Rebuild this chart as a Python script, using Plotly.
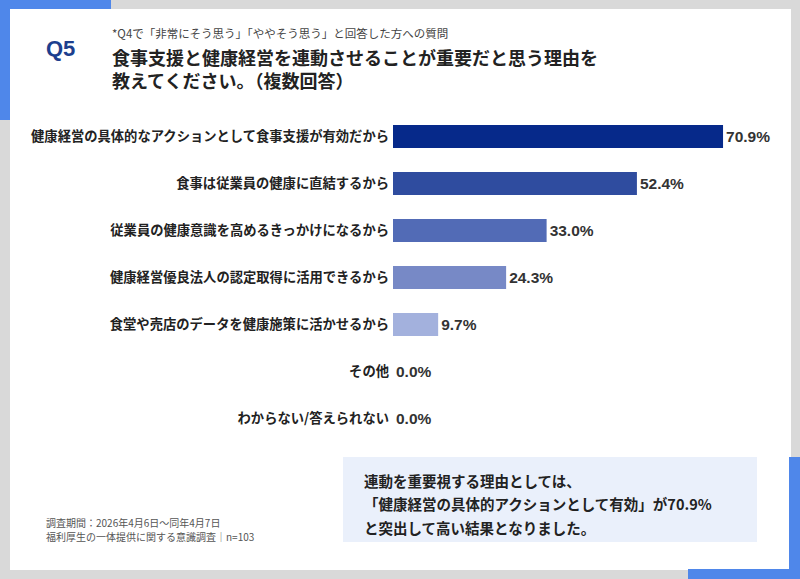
import plotly.graph_objects as go

# Q5 answers (multiple choice), n=103
reasons = [
	'健康経営の具体的なアクションとして食事支援が有効だから',
	'食事は従業員の健康に直結するから',
	'従業員の健康意識を高めるきっかけになるから',
	'健康経営優良法人の認定取得に活用できるから',
	'食堂や売店のデータを健康施策に活かせるから',
	'その他',
	'わからない/答えられない',
]
percent = [70.9, 52.4, 33.0, 24.3, 9.7, 0.0, 0.0]
bar_colors = ['#06298a', '#2f4c9f', '#526bb6', '#7789c6', '#a3b1dd', '#c5cdea', '#c5cdea']

subtitle = '*Q4で「非常にそう思う」「ややそう思う」と回答した方への質問'
title_lines = ['食事支援と健康経営を連動させることが重要だと思う理由を', '教えてください。（複数回答）']
callout_lines = ['連動を重要視する理由としては、', '「健康経営の具体的アクションとして有効」が70.9%', 'と突出して高い結果となりました。']
footnote_lines = ['調査期間：2026年4月6日～同年4月7日', '福利厚生の一体提供に関する意識調査│n=103']

W, H = 800, 579
L, R, T, B = 393, 10, 113, 137
JP = 'Noto Sans CJK JP'
LAT = 'Liberation Sans, Arial, Noto Sans CJK JP'
BLUE = '#4f87ea'

def px(x):
	return (x - L)/(W - L - R)

def py(y):
	return (H - B - y)/(H - T - B)

fig = go.Figure()
fig.add_trace(go.Bar(
	x = percent,
	y = reasons,
	orientation = 'h',
	marker = dict(color = bar_colors, line = dict(width = 0)),
	width = 0.49,
	texttemplate = '<b>%{x:.1f}%</b>',
	textposition = 'outside',
	textfont = dict(family = LAT, size = 15.5, color = '#333333'),
	cliponaxis = False,
	hoverinfo = 'skip',
))

def rect(x0, y0, x1, y1, color):
	fig.add_shape(
		type = 'rect', xref = 'paper', yref = 'paper',
		x0 = px(x0), x1 = px(x1), y0 = py(y1), y1 = py(y0),
		fillcolor = color, line = dict(width = 0), layer = 'below',
	)

# frame ---
rect(10, 9, 791, 570, 'white')
rect(0, 0, 111, 9, BLUE)
rect(0, 0, 10, 120, BLUE)
rect(789, 457, 800, 579, BLUE)
rect(688, 569, 800, 579, BLUE)
rect(343, 457, 757, 542, '#eaf0fb')

def text(x, y, s, size, color, family = JP, bold = False):
	fig.add_annotation(
		x = px(x), y = py(y), xref = 'paper', yref = 'paper',
		text = f'<b>{s}</b>' if bold else s,
		showarrow = False, xanchor = 'left', yanchor = 'middle', align = 'left',
		font = dict(family = family, size = size, color = color),
	)

text(44, 49, 'Q5', 22, '#1d3f8e', family = LAT, bold = True)
text(110, 33, subtitle, 11.5, '#444444')
text(110, 68, '<br>'.join(f'<b>{s}</b>' for s in title_lines), 18, '#222222')
for i, line in enumerate(callout_lines):
	text(362, 480 + 23.5*i, line, 14.5, '#222222', bold = True)
for i, line in enumerate(footnote_lines):
	text(44, 522 + 14*i, line, 10, '#555555')

fig.update_layout(
	width = W,
	height = H,
	margin = dict(l = L, r = R, t = T, b = B, pad = 0),
	paper_bgcolor = '#d9d9d9',
	plot_bgcolor = 'rgba(0,0,0,0)',
	showlegend = False,
	bargap = 0.51,
	xaxis = dict(
		range = [0, (W - L - R)/4.655],
		visible = False,
		fixedrange = True,
	),
	yaxis = dict(
		autorange = 'reversed',
		showgrid = False,
		zeroline = False,
		showline = False,
		ticks = '',
		ticklabelstandoff = 3,
		tickfont = dict(family = JP, size = 13.3, color = '#222222', weight = 'bold'),
		fixedrange = True,
	),
)

# page body has a default 8px margin, drop it so the figure sits at the window corner
fig.write_html(
	'out.html',
	config = {'displayModeBar': False},
	post_script = "document.body.style.margin = '0'; document.body.style.overflow = 'hidden';",
)
